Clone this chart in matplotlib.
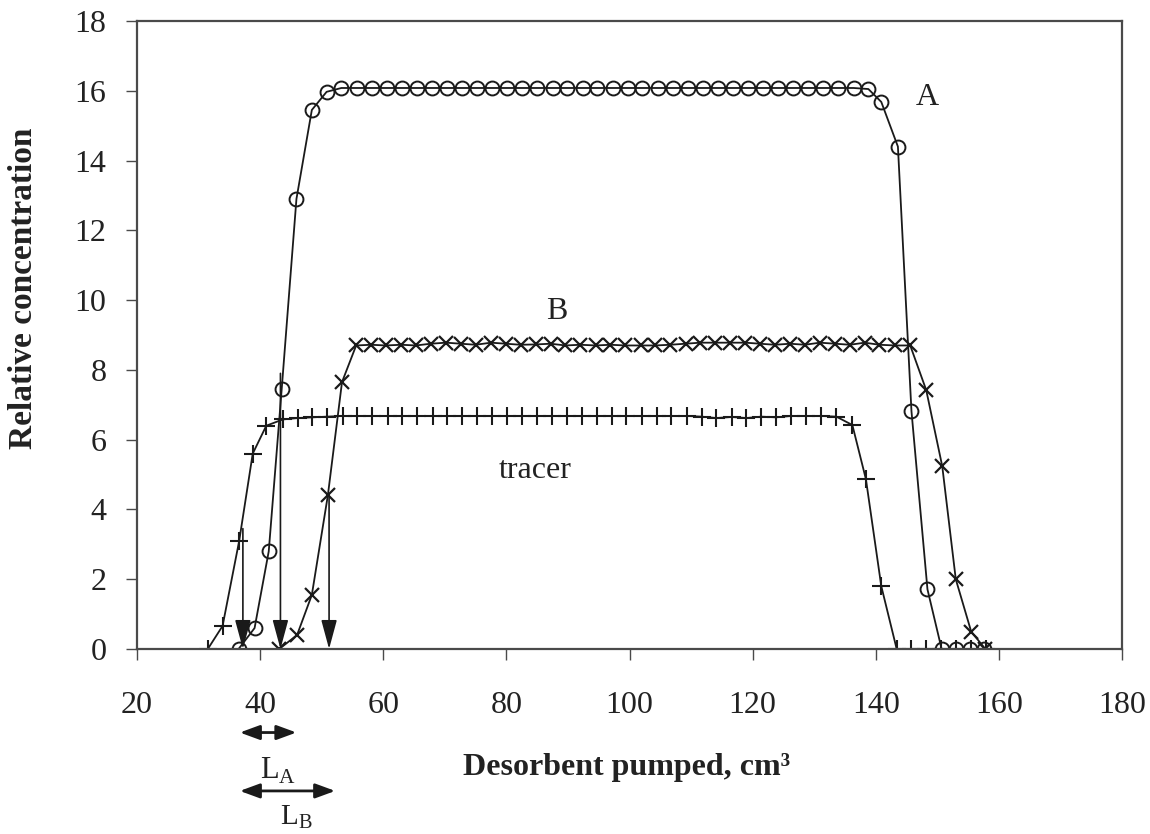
import matplotlib
matplotlib.use("Agg")
import matplotlib.pyplot as plt
from matplotlib.transforms import blended_transform_factory

plt.rcParams['font.family'] = ['Liberation Serif', 'DejaVu Serif']
plt.rcParams['mathtext.fontset'] = 'custom'
plt.rcParams['mathtext.rm'] = 'Liberation Serif'
plt.rcParams['mathtext.bf'] = 'Liberation Serif:bold'

# ---- data ----
tracer_x = [31.5, 33.9, 36.6, 38.8, 41.0, 43.7, 46.1, 48.5, 50.9, 53.4,
            55.8, 58.2, 60.7, 63.1, 65.5, 68.0, 70.4, 72.8, 75.2, 77.7,
            80.1, 82.5, 85.0, 87.4, 89.8, 92.3, 94.7, 97.1, 99.5, 102.0,
            104.4, 106.8, 109.3, 111.7, 114.1, 116.6, 119.0, 121.4, 123.8, 126.3,
            128.7, 131.1, 133.6, 136.2, 138.4, 140.9, 143.4, 145.8, 148.2, 150.6,
            153.0, 155.4, 157.9]
tracer_y = [0, 0.66, 3.1, 5.6, 6.4, 6.58, 6.62, 6.64, 6.66, 6.68,
            6.68, 6.68, 6.68, 6.68, 6.68, 6.68, 6.68, 6.68, 6.68, 6.68,
            6.68, 6.68, 6.68, 6.68, 6.68, 6.68, 6.68, 6.68, 6.68, 6.68,
            6.68, 6.68, 6.68, 6.66, 6.62, 6.65, 6.62, 6.66, 6.64, 6.68,
            6.68, 6.68, 6.66, 6.42, 4.87, 1.8, 0, 0, 0, 0,
            0, 0, 0]

a_x = [36.5, 39.1, 41.4, 43.5, 45.9, 48.4, 50.8,
       53.2, 55.7, 58.1, 60.6, 63.0, 65.5, 67.9, 70.4, 72.8, 75.3,
       77.7, 80.1, 82.6, 85.0, 87.5, 89.9, 92.4, 94.8, 97.3, 99.7,
       102.1, 104.6, 107.0, 109.5, 111.9, 114.4, 116.8, 119.3, 121.7, 124.2,
       126.6, 129.0, 131.5, 133.9, 136.4, 138.8,
       140.9, 143.6, 145.8, 148.4, 150.7, 153.0, 155.3, 157.6]
a_y = [0, 0.6, 2.8, 7.44, 12.9, 15.45, 15.97,
       16.08, 16.08, 16.08, 16.08, 16.08, 16.08, 16.08, 16.08, 16.08, 16.08,
       16.08, 16.08, 16.08, 16.08, 16.08, 16.08, 16.08, 16.08, 16.08, 16.08,
       16.08, 16.08, 16.08, 16.08, 16.08, 16.08, 16.08, 16.08, 16.08, 16.08,
       16.08, 16.08, 16.08, 16.08, 16.08, 16.05,
       15.68, 14.4, 6.82, 1.71, 0, 0, 0, 0]

b_x = [43.1, 46.0, 48.4, 51.0, 53.3, 55.6,
       58.0, 60.4, 62.9, 65.3, 67.7, 70.2, 72.6, 75.0, 77.5, 79.9,
       82.3, 84.8, 87.2, 89.6, 92.0, 94.5, 96.9, 99.3, 101.8, 104.2,
       106.6, 109.1, 111.5, 113.9, 116.3, 118.8, 121.2, 123.6, 126.1, 128.5,
       130.9, 133.4, 135.8, 138.2, 140.6, 143.1, 145.6,
       148.2, 150.8, 153.0, 155.5, 157.8]
b_y = [0, 0.4, 1.55, 4.4, 7.65, 8.7,
       8.72, 8.7, 8.72, 8.7, 8.75, 8.78, 8.75, 8.72, 8.78, 8.75,
       8.72, 8.73, 8.75, 8.7, 8.72, 8.7, 8.72, 8.7, 8.7, 8.7,
       8.72, 8.75, 8.78, 8.78, 8.78, 8.78, 8.75, 8.72, 8.75, 8.72,
       8.78, 8.75, 8.72, 8.78, 8.72, 8.7, 8.7,
       7.42, 5.24, 2.0, 0.5, 0]

arrow_x = [37.2, 43.3, 51.2]
arrow_top = [3.45, 7.9, 4.4]

x_ticks = [20, 40, 60, 80, 100, 120, 140, 160, 180]
y_ticks = [0, 2, 4, 6, 8, 10, 12, 14, 16, 18]

# ---- figure ----
fig = plt.figure(figsize=(11.5, 8.34), dpi=100)
ax = fig.add_axes([137/1150, 1 - 649/834, 985/1150, 628/834])
ink = '#1a1a1a'
frame = '#4a4a4a'
txt = '#222222'

ax.plot(tracer_x, tracer_y, color=ink, lw=1.3, marker='+', ms=13, mew=1.5)
ax.plot(a_x, a_y, color=ink, lw=1.3, marker='o', ms=10, mfc='none', mec=ink, mew=1.4)
ax.plot(b_x, b_y, color=ink, lw=1.3, marker='x', ms=10, mew=1.6)

for xa, yt in zip(arrow_x, arrow_top):
    ax.annotate('', xy=(xa, 0), xytext=(xa, yt),
                arrowprops=dict(arrowstyle='-|>,head_length=1.0,head_width=0.27',
                                color=ink, lw=1.2, shrinkA=0, shrinkB=0,
                                mutation_scale=18))

ax.set_xlim(20, 180)
ax.set_ylim(0, 18)
ax.set_xticks(x_ticks)
ax.set_yticks(y_ticks)
ax.tick_params(axis='both', direction='out', length=8, width=1.0, color=frame,
               labelsize=23, labelcolor=txt)
ax.tick_params(axis='x', pad=22)
ax.tick_params(axis='y', pad=14)
for sp in ax.spines.values():
    sp.set_color(frame)
    sp.set_linewidth(1.6)

ax.text(148.4, 15.8, 'A', fontsize=23, ha='center', va='center', color=txt)
ax.text(88.2, 9.66, 'B', fontsize=23, ha='center', va='center', color=txt)
ax.text(84.7, 5.13, 'tracer', fontsize=23, ha='center', va='center', color=txt)

trans = blended_transform_factory(ax.transData, ax.transAxes)
dbl = dict(arrowstyle='<|-|>,head_length=0.6,head_width=0.22', color=ink,
           lw=2.0, shrinkA=0, shrinkB=0, mutation_scale=20)
ax.annotate('', xy=(36.7, -0.133), xytext=(45.9, -0.133), xycoords=trans, textcoords=trans,
            arrowprops=dbl, annotation_clip=False)
ax.annotate('', xy=(36.7, -0.226), xytext=(52.2, -0.226), xycoords=trans, textcoords=trans,
            arrowprops=dbl, annotation_clip=False)
ax.text(40.0, -0.171, r'L$_\mathrm{A}$', transform=trans, fontsize=22, ha='left', va='top',
        color=txt, clip_on=False)
ax.text(43.2, -0.246, r'L$_\mathrm{B}$', transform=trans, fontsize=21, ha='left', va='top',
        color=txt, clip_on=False)

ax.text((627 - 137) / 985, -0.188, 'Desorbent pumped, cm³', transform=ax.transAxes,
        fontsize=23, fontweight='bold', ha='center', va='center', color=txt)
fig.text(24/1150, 1 - 288/834, 'Relative concentration', rotation=90, fontsize=24,
         fontweight='bold', ha='center', va='center', color=txt)

fig.savefig('out.png', dpi=100)
